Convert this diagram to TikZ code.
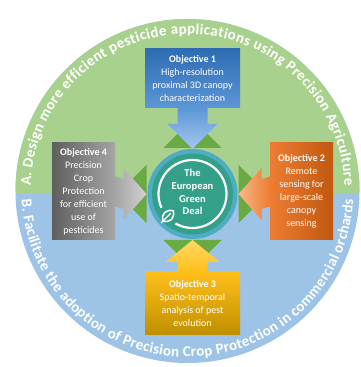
\documentclass[tikz,border=0pt]{standalone}
\usepackage{fontspec}
\setmainfont{Carlito}
\usetikzlibrary{decorations.text,calc}
\definecolor{ringgreen}{RGB}{169,209,142}
\definecolor{ringblue}{RGB}{157,195,230}
\definecolor{arrowgreen}{RGB}{106,170,66}
\definecolor{tealring}{RGB}{78,172,196}
\definecolor{tealin}{RGB}{52,160,138}
\definecolor{oneA}{RGB}{46,108,179}
\definecolor{oneB}{RGB}{92,150,214}
\definecolor{oneC}{RGB}{165,200,239}
\definecolor{twoA}{RGB}{192,88,15}
\definecolor{twoB}{RGB}{238,125,51}
\definecolor{twoC}{RGB}{248,184,139}
\definecolor{thrA}{RGB}{191,143,0}
\definecolor{thrB}{RGB}{255,191,26}
\definecolor{thrC}{RGB}{255,217,102}
\definecolor{fouA}{RGB}{95,95,95}
\definecolor{fouB}{RGB}{165,165,165}
\definecolor{fouC}{RGB}{210,210,210}
\tikzset{
  objbox/.style={rectangle, inner sep=2pt, align=center, text=white,
    font=\fontsize{10}{13}\selectfont},
  ringtext/.style={decorate, decoration={text along path, text color=white,
    text format delimiters={|}{|}, text align={fit to path}, text={#1}}}
}
\begin{document}
\begin{tikzpicture}[x=1pt,y=1pt]
\useasboundingbox (0,0) rectangle (361,367);
\coordinate (O) at (187.5,176);
\coordinate (C) at (192.5,173);
% background disc
\fill[ringblue] (O) circle[radius=172];
\begin{scope}
  \clip (0,174.5) rectangle (361,367);
  \fill[ringgreen] (O) circle[radius=172];
\end{scope}
% ring texts
\path[ringtext={|\bfseries\fontsize{15}{18}\selectfont|A. Design more efficient pesticide applications using Precision Agriculture}]
  ($(O)+(178:157)$) arc[start angle=178, end angle=2, radius=157];
\path[ringtext={|\bfseries\fontsize{15}{18}\selectfont|B. Facilitate the adoption of Precision Crop Protection in commercial orchards}]
  ($(O)+(183:166)$) arc[start angle=183, end angle=357, radius=166];
% green arrow heads
\foreach \a in {0,90,180,270}{
  \begin{scope}[shift={(C)}, rotate=\a]
    \fill[arrowgreen] (46,29) -- (75,0) -- (46,-29) -- cycle;
  \end{scope}
}
% objective boxes
\node[objbox, minimum width=95pt, minimum height=59pt, top color=oneA, bottom color=oneB] (o1) at (192.5,288.5)
  {\textbf{Objective 1}\\High-resolution\\proximal 3D canopy\\characterization};
\node[objbox, minimum width=63pt, minimum height=97pt, left color=twoB, right color=twoA] (o2) at (301.5,175.5)
  {\textbf{Objective 2}\\Remote\\sensing for\\large-scale\\canopy\\sensing};
\node[objbox, minimum width=95pt, minimum height=63pt, top color=thrB, bottom color=thrA] (o3) at (192.5,63.5)
  {\textbf{Objective 3}\\Spatio-temporal\\analysis of pest\\evolution};
\node[objbox, minimum width=63pt, minimum height=97pt, left color=fouA, right color=fouB] (o4) at (83.5,175.5)
  {\textbf{Objective 4}\\Precision\\Crop\\Protection\\for efficient\\use of\\pesticides};
% objective arrows
\shade[top color=oneB, bottom color=oneC]
  ([xshift=-15pt]o1.south) -- ($(C)+(-15,70)$) -- ($(C)+(-25,70)$) -- ($(C)+(0,45)$)
  -- ($(C)+(25,70)$) -- ($(C)+(15,70)$) -- ([xshift=15pt]o1.south) -- cycle;
\shade[top color=thrC, bottom color=thrB]
  ([xshift=-15pt]o3.north) -- ($(C)+(-15,-68)$) -- ($(C)+(-27,-68)$) -- ($(C)+(0,-46)$)
  -- ($(C)+(27,-68)$) -- ($(C)+(15,-68)$) -- ([xshift=15pt]o3.north) -- cycle;
\shade[left color=fouB, right color=fouC]
  ([yshift=15pt]o4.east) -- ($(C)+(-69,15)$) -- ($(C)+(-69,26)$) -- ($(C)+(-46,0)$)
  -- ($(C)+(-69,-26)$) -- ($(C)+(-69,-15)$) -- ([yshift=-15pt]o4.east) -- cycle;
\shade[left color=twoC, right color=twoB]
  ([yshift=15pt]o2.west) -- ($(C)+(69,15)$) -- ($(C)+(69,26)$) -- ($(C)+(46,0)$)
  -- ($(C)+(69,-26)$) -- ($(C)+(69,-15)$) -- ([yshift=-15pt]o2.west) -- cycle;
% central circle
\fill[tealring] (C) circle[radius=45];
\fill[tealin] (C) circle[radius=40.5];
\draw[white, line width=2.2pt] ($(C)+(240:34)$) arc[start angle=240, end angle=564, radius=34];
\begin{scope}[shift={($(C)+(222:33)$)}, rotate=45]
  \draw[white, line width=1.5pt, line join=round]
    (-7,0) .. controls (-3.5,6.5) and (3.5,6.5) .. (7.5,0) .. controls (3.5,-6.5) and (-3.5,-6.5) .. (-7,0) -- cycle;
  \draw[white, line width=1.2pt, line cap=round] (-9.5,0) -- (3.5,0);
\end{scope}
\node[align=center, text=white, font=\bfseries\fontsize{10.5}{12.8}\selectfont] (gd) at (192.5,175)
  {The\\European\\Green\\Deal};
\end{tikzpicture}
\end{document}
